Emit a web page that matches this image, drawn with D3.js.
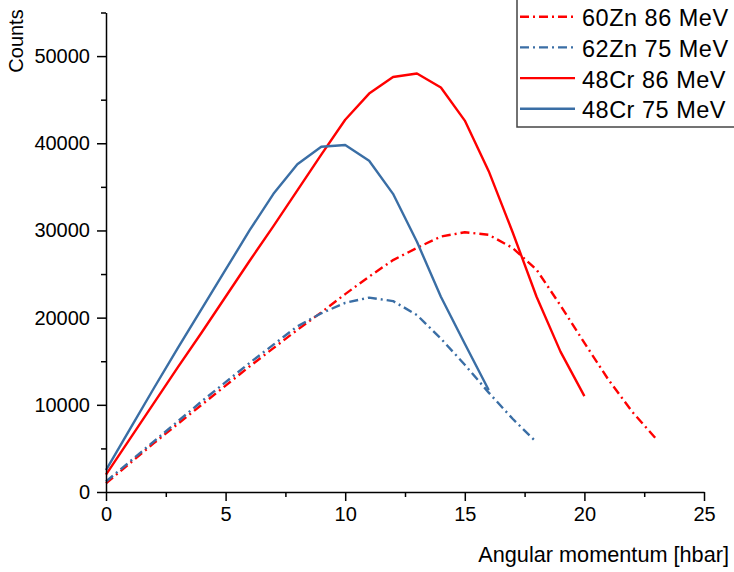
<!DOCTYPE html>
<html>
<head>
<meta charset="utf-8">
<script src="https://cdn.jsdelivr.net/npm/d3@7/dist/d3.min.js"></script>
<style>
  html, body { margin: 0; padding: 0; background: #fff; }
  svg { display: block; font-family: "Liberation Sans", Arial, sans-serif; }
</style>
</head>
<body>
<svg id="chart" width="734" height="572"></svg>
<script>
// Angular momentum (hbar) sampled at integer steps
const spins = [0, 1, 2, 3, 4, 5, 6, 7, 8, 9, 10, 11, 12, 13, 14, 15, 16, 17, 18, 19, 20, 21, 22, 23];

// Counts per angular momentum for each reaction
const zn60_86 = [1000, 3300, 5600, 7800, 10000, 12200, 14400, 16500, 18600, 20600, 22700, 24700,
                 26600, 28000, 29300, 29800, 29500, 28000, 25500, 21400, 17100, 12900, 9200, 6100];
const zn62_75 = [1200, 3500, 5800, 8100, 10400, 12600, 14800, 16900, 19000, 20500, 21700, 22300,
                 21900, 20300, 17600, 14600, 11400, 8400, 5700];
const cr48_86 = [2000, 6100, 10200, 14300, 18300, 22400, 26500, 30500, 34600, 38700, 42700, 45700,
                 47600, 48000, 46400, 42600, 36800, 29800, 22400, 16100, 11000];
const cr48_75 = [2500, 7200, 11900, 16500, 21000, 25500, 30000, 34200, 37600, 39600, 39800, 38000,
                 34200, 28700, 22400, 17000, 11700];

const seriesNames = ["60Zn 86 MeV", "62Zn 75 MeV", "48Cr 86 MeV", "48Cr 75 MeV"];

// Axis ticks
const xMajorTicks = [0, 5, 10, 15, 20, 25];
const xMinorTicks = [2.5, 7.5, 12.5, 17.5, 22.5];
const yMajorTicks = [0, 10000, 20000, 30000, 40000, 50000];
const yMinorTicks = [5000, 15000, 25000, 35000, 45000, 55000];

const RED = "#ff0000";
const BLUE = "#3a6ea5";
const DASHDOT = "9,4,2,4";

const series = [
  { name: seriesNames[0], values: zn60_86, color: RED,  dash: DASHDOT },
  { name: seriesNames[1], values: zn62_75, color: BLUE, dash: DASHDOT },
  { name: seriesNames[2], values: cr48_86, color: RED,  dash: null },
  { name: seriesNames[3], values: cr48_75, color: BLUE, dash: null }
];

const svg = d3.select("#chart");

const x = d3.scaleLinear().domain([0, 25]).range([106, 704]);
const y = d3.scaleLinear().domain([0, 55000]).range([492, 12.5]);

// Data lines
const line = d3.line()
  .x((d, i) => x(spins[i]))
  .y(d => y(d));

svg.append("g").selectAll("path")
  .data(series)
  .join("path")
  .attr("d", s => line(s.values))
  .attr("fill", "none")
  .attr("stroke", s => s.color)
  .attr("stroke-width", 2.4)
  .attr("stroke-linejoin", "round")
  .attr("stroke-dasharray", s => s.dash);

// X axis
const xAxisG = svg.append("g").attr("transform", `translate(0,${y(0)})`);
xAxisG.call(d3.axisBottom(x).tickValues(xMinorTicks).tickSize(5).tickFormat(""));
xAxisG.call(g => g.select(".domain").remove());
const xMajor = svg.append("g").attr("transform", `translate(0,${y(0)})`)
  .call(d3.axisBottom(x).tickValues(xMajorTicks).tickSize(9).tickSizeOuter(0).tickPadding(6).tickFormat(d3.format("d")));
[xAxisG, xMajor].forEach(g => {
  g.selectAll("line").attr("stroke", "#000").attr("stroke-width", 1.5);
  g.selectAll(".domain").attr("stroke", "#000").attr("stroke-width", 1.5);
  g.selectAll("text").attr("font-size", 20).attr("fill", "#000").attr("font-family", "Liberation Sans, Arial, sans-serif");
});

// Y axis
const yMinor = svg.append("g").attr("transform", `translate(${x(0)},0)`)
  .call(d3.axisLeft(y).tickValues(yMinorTicks).tickSize(5).tickFormat(""));
yMinor.call(g => g.select(".domain").remove());
const yMajor = svg.append("g").attr("transform", `translate(${x(0)},0)`)
  .call(d3.axisLeft(y).tickValues(yMajorTicks).tickSize(9).tickSizeOuter(0).tickPadding(7).tickFormat(d3.format("d")));
[yMinor, yMajor].forEach(g => {
  g.selectAll("line").attr("stroke", "#000").attr("stroke-width", 1.5);
  g.selectAll(".domain").attr("stroke", "#000").attr("stroke-width", 1.5);
  g.selectAll("text").attr("font-size", 20).attr("fill", "#000").attr("font-family", "Liberation Sans, Arial, sans-serif");
});

// Axis titles
svg.append("text")
  .attr("x", 729).attr("y", 562)
  .attr("text-anchor", "end")
  .attr("font-size", 21.7)
  .attr("fill", "#000")
  .text("Angular momentum [hbar]");

svg.append("text")
  .attr("transform", "translate(23,41) rotate(-90)")
  .attr("text-anchor", "middle")
  .attr("font-size", 20)
  .attr("fill", "#000")
  .text("Counts");

// Legend
const legend = svg.append("g");
legend.append("rect")
  .attr("x", 517).attr("y", -2)
  .attr("width", 240).attr("height", 129)
  .attr("fill", "#fff")
  .attr("stroke", "#444")
  .attr("stroke-width", 1.5);

const rowY = d3.scaleLinear().domain([0, 1]).range([16.7, 47.4]);
const rows = legend.selectAll("g.row")
  .data(series)
  .join("g")
  .attr("class", "row")
  .attr("transform", (d, i) => `translate(0,${rowY(i)})`);

rows.append("line")
  .attr("x1", 520).attr("x2", 575)
  .attr("y1", 0).attr("y2", 0)
  .attr("stroke", d => d.color)
  .attr("stroke-width", 2.4)
  .attr("stroke-dasharray", d => d.dash);

rows.append("text")
  .attr("x", 582).attr("y", 9.6)
  .attr("font-size", 23.5)
  .attr("letter-spacing", 0.5)
  .attr("fill", "#000")
  .text(d => d.name);
</script>
</body>
</html>
